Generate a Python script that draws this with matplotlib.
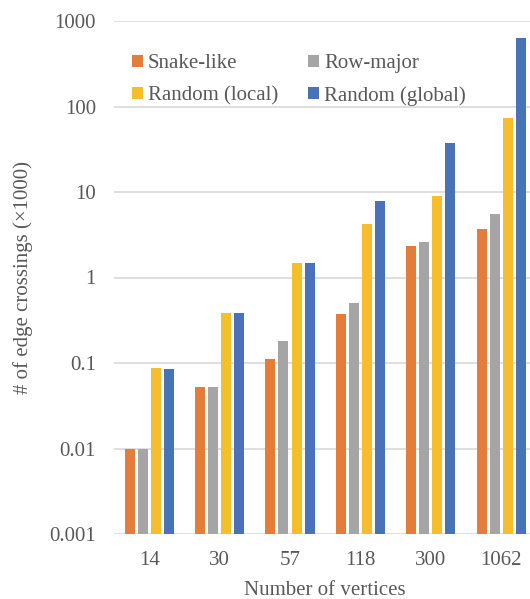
import matplotlib
matplotlib.use("Agg")
import matplotlib.pyplot as plt
import numpy as np
from matplotlib.ticker import FixedLocator, FixedFormatter

categories = ["14", "30", "57", "118", "300", "1062"]
series_names = ["Snake-like", "Row-major", "Random (local)", "Random (global)"]
snake_like = [0.010, 0.052, 0.112, 0.374, 2.35, 3.71]
row_major = [0.010, 0.053, 0.18, 0.51, 2.57, 5.5]
random_local = [0.0867, 0.38, 1.47, 4.17, 9.1, 73.0]
random_global = [0.084, 0.38, 1.47, 7.95, 37.6, 631.0]
y_ticks = [0.001, 0.01, 0.1, 1, 10, 100, 1000]
y_tick_labels = ["0.001", "0.01", "0.1", "1", "10", "100", "1000"]

colors = ["#E47D3A", "#A5A5A5", "#F6BD2C", "#4A72B8"]
text_color = "#595959"
plt.rcParams["font.family"] = ["Liberation Serif", "DejaVu Serif"]
fs = 15
plt.rcParams["font.size"] = fs

W, H = 530, 599
fig = plt.figure(figsize=(W / 100, H / 100), dpi=100)
left, right, top, bottom = 114, 536.4, 21, 534
ax = fig.add_axes([left / W, 1 - bottom / H, (right - left) / W, (bottom - top) / H])

x = np.arange(len(categories))
offsets = [-0.2775, -0.0925, 0.0925, 0.2775]
bw = 0.142
data = [snake_like, row_major, random_local, random_global]
handles = []
for i, (name, vals) in enumerate(zip(series_names, data)):
    h = ax.bar(x + offsets[i], vals, width=bw, color=colors[i], label=name, zorder=3)
    handles.append(h)

ax.set_yscale("log")
ax.set_ylim(0.001, 1000)
ax.set_xlim(-0.5, len(categories) - 0.5)
ax.yaxis.set_major_locator(FixedLocator(y_ticks))
ax.yaxis.set_major_formatter(FixedFormatter(y_tick_labels))
ax.yaxis.set_minor_locator(FixedLocator([]))
ax.set_xticks(x)
ax.set_xticklabels(categories)
ax.grid(axis="y", color="#D9D9D9", linewidth=1.2, zorder=0)
for s in ax.spines.values():
    s.set_visible(False)
ax.tick_params(axis="both", length=0, colors=text_color, labelsize=fs)
ax.tick_params(axis="y", pad=13)
ax.tick_params(axis="x", pad=12)
ax.set_xlabel("Number of vertices", color=text_color, fontsize=fs, labelpad=8)
ax.set_ylabel("# of edge crossings (×1000)", color=text_color, fontsize=fs, labelpad=12)

order = [0, 2, 1, 3]
leg = ax.legend([handles[i] for i in order], [series_names[i] for i in order],
                ncol=2, loc="upper left", bbox_to_anchor=(132 / W, 1 - 54 / H),
                bbox_transform=fig.transFigure, frameon=False, handlelength=0.52,
                handleheight=0.5, handletextpad=0.25, columnspacing=1.44,
                labelspacing=0.62, fontsize=fs, borderaxespad=0, borderpad=0)
for t in leg.get_texts():
    t.set_color(text_color)

fig.savefig("out.png", dpi=100)
